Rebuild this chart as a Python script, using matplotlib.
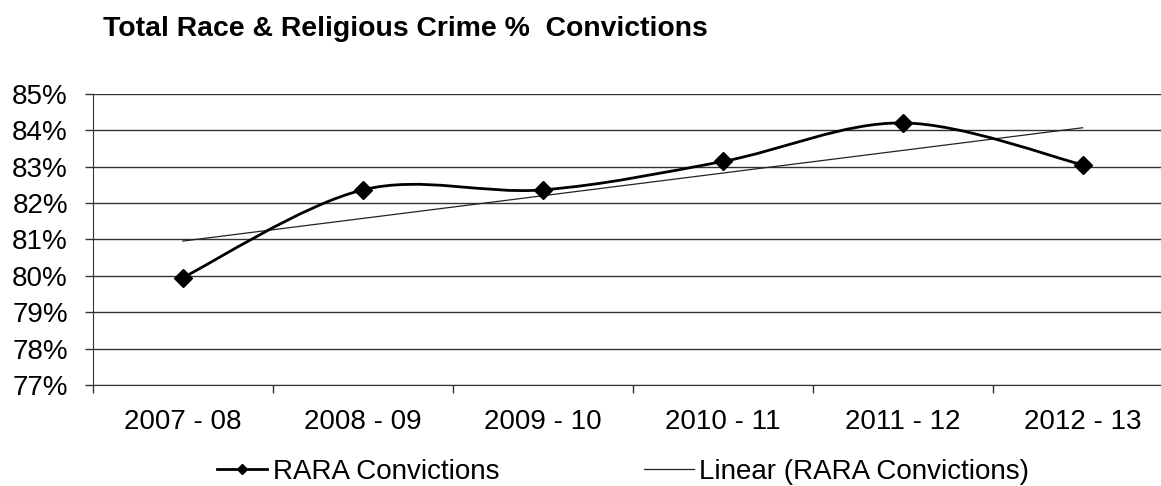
import matplotlib
matplotlib.use("Agg")
import matplotlib.pyplot as plt
import numpy as np
from matplotlib.path import Path
from matplotlib.patches import PathPatch
from matplotlib.lines import Line2D

plt.rcParams['font.family'] = ['Liberation Sans', 'DejaVu Sans']

years = ["2007 - 08", "2008 - 09", "2009 - 10", "2010 - 11", "2011 - 12", "2012 - 13"]
convictions = [79.95, 82.36, 82.36, 83.14, 84.2, 83.05]
y_ticks = [77, 78, 79, 80, 81, 82, 83, 84, 85]

x = np.arange(1, len(years) + 1)
y = np.array(convictions)

fig = plt.figure(figsize=(11.61, 4.86), dpi=100)
ax = fig.add_axes([0.080, 0.208, 0.930, 0.599])

# excel style smoothed line: catmull-rom as cubic bezier segments
pts = np.column_stack([x, y])
ext = np.vstack([pts[0], pts, pts[-1]])
verts = [tuple(pts[0])]
codes = [Path.MOVETO]
for i in range(1, len(ext) - 2):
    p0, p1, p2, p3 = ext[i - 1], ext[i], ext[i + 1], ext[i + 2]
    c1 = p1 + (p2 - p0) / 6
    c2 = p2 - (p3 - p1) / 6
    verts += [tuple(c1), tuple(c2), tuple(p2)]
    codes += [Path.CURVE4] * 3
ax.add_patch(PathPatch(Path(verts, codes), fill=False, edgecolor='black', lw=2.0, zorder=3))
ax.plot(x, y, linestyle='none', marker='D', markersize=9, color='black', zorder=4)

# linear trendline
k, b = np.polyfit(x, y, 1)
ax.plot(x[[0, -1]], k * x[[0, -1]] + b, color='#222222', lw=0.9, zorder=2)

ax.set_xlim(0.5, len(years) + 0.5)
ax.set_ylim(77, 85)
ax.set_yticks(y_ticks)
ax.set_yticklabels([f"{t}%" for t in y_ticks])
ax.yaxis.grid(True, color='#333333', lw=1.0)
ax.set_axisbelow(True)

ax.set_xticks(np.arange(0.5, len(years) + 1, 1))
ax.set_xticklabels([])
ax.set_xticks(x, minor=True)
ax.set_xticklabels(years, minor=True)
ax.tick_params(axis='x', which='major', length=6, width=1, color='#333333', direction='out')
ax.tick_params(axis='x', which='minor', length=0, pad=17, labelsize=20)
ax.tick_params(axis='y', length=6, width=1, color='#333333', pad=12, labelsize=20)

for s in ['top', 'right']:
    ax.spines[s].set_visible(False)
ax.spines['left'].set_color('#333333')
ax.spines['bottom'].set_color('#333333')

fig.text(0.089, 0.94, "Total Race & Religious Crime %  Convictions",
         fontsize=20.4, fontweight='bold', va='center', ha='left')

handles = [Line2D([], [], color='black', lw=2.0, marker='D', markersize=5),
           Line2D([], [], color='#222222', lw=0.9)]
fig.legend(handles, ["RARA Convictions", "Linear (RARA Convictions)"],
           loc='center', bbox_to_anchor=(0.537, 0.029), ncol=2, frameon=False,
           fontsize=20, handlelength=1.8, handletextpad=0.2, columnspacing=5.2)

fig.savefig("out.png", dpi=100)
